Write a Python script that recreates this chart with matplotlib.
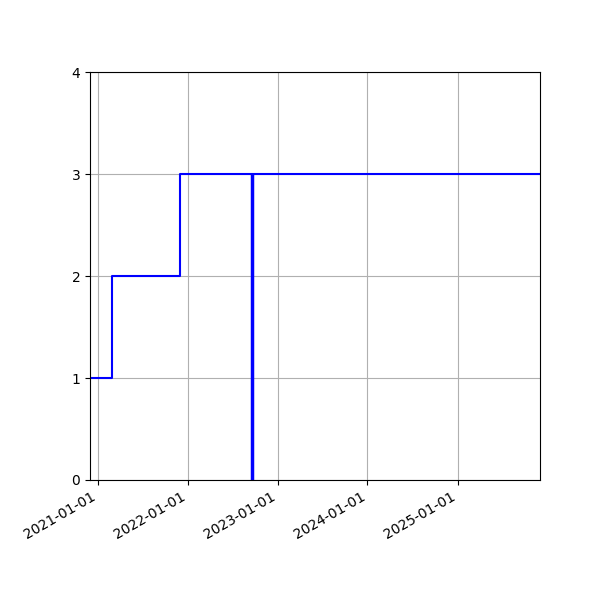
import numpy as np
import pandas as pd
import matplotlib
matplotlib.use('Agg')
import matplotlib.pyplot as plt
import matplotlib.dates as mdates

# step data
dates = pd.to_datetime(['2020-12-01', '2021-03-01', '2021-12-01', '2025-12-01'])
counts = [1, 2, 3, 3]

# event marker
event_date = pd.to_datetime('2022-09-20')
event_top = 3

fig, ax = plt.subplots(figsize=(6, 6), dpi=100)
fig.subplots_adjust(left=0.15, right=0.9, top=0.88, bottom=0.2)

ax.step(dates, counts, where='post', color='b', lw=1.5)
ax.vlines(event_date, 0, event_top, color='b', lw=2.5)

ax.set_xlim(dates[0], dates[-1])
ax.set_ylim(0, 4)
ax.set_yticks([0, 1, 2, 3, 4])

ax.xaxis.set_major_locator(mdates.YearLocator())
ax.xaxis.set_major_formatter(mdates.DateFormatter('%Y-%m-%d'))
fig.autofmt_xdate()
fig.subplots_adjust(left=0.15, right=0.9, top=0.88, bottom=0.2)

ax.grid(True)

plt.savefig('out.png', dpi=100)
